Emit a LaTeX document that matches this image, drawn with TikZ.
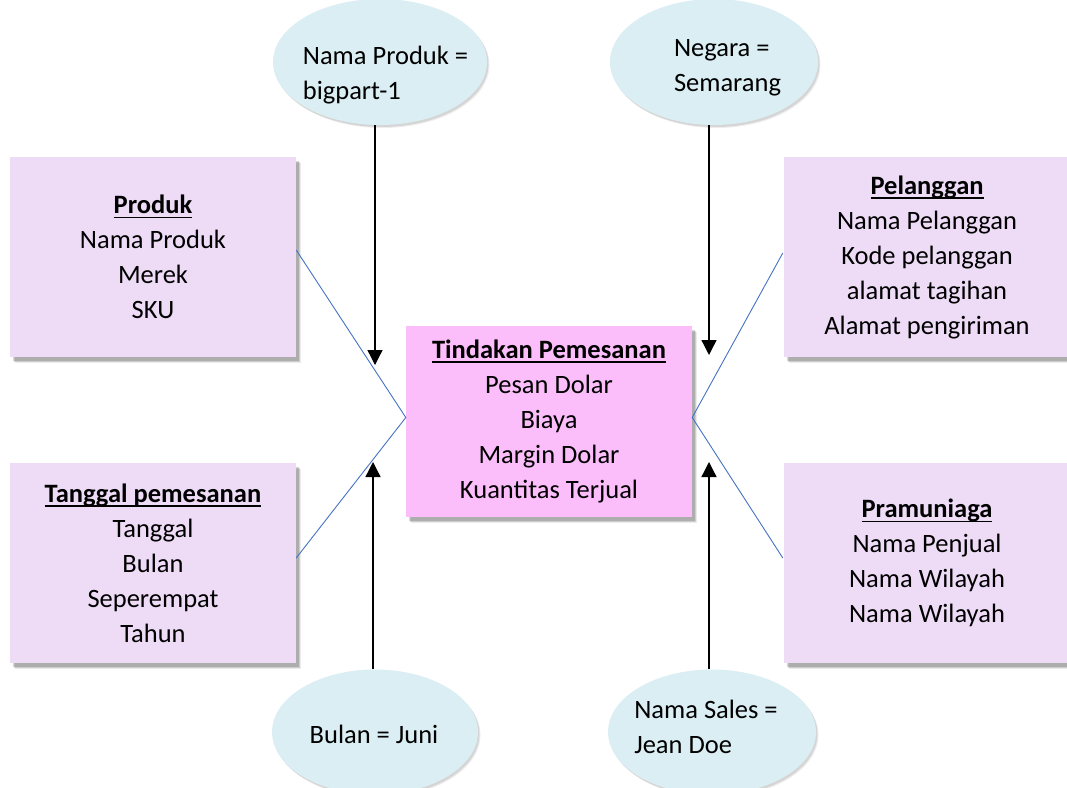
\documentclass[tikz,border=0pt]{standalone}
\usepackage{fontspec}
\setmainfont{Carlito}
\newcommand\myul[1]{\setbox0=\hbox{#1}\leavevmode\rlap{\rule[-4.5pt]{\wd0}{1.6pt}}\box0}
\usetikzlibrary{shapes.geometric,shadows,arrows.meta}
\definecolor{lav}{HTML}{EEDCF7}
\definecolor{pinkf}{HTML}{FBBEFA}
\definecolor{eblue}{HTML}{DAEEF3}
\definecolor{lblue}{HTML}{4472C4}
\begin{document}
\begin{tikzpicture}[x=1pt,y=-1pt,
  font=\fontsize{26.5}{35}\selectfont,
  shad/.style={drop shadow={shadow xshift=4.5pt,shadow yshift=-5.5pt,fill=black,opacity=0.08},
               drop shadow={shadow xshift=3.5pt,shadow yshift=-4.5pt,fill=black,opacity=0.12},
               drop shadow={shadow xshift=2.5pt,shadow yshift=-3.5pt,fill=black,opacity=0.16}},
  dimbox/.style={rectangle,fill=lav,minimum width=286pt,minimum height=200pt,inner sep=0pt,align=center,shad},
  factbox/.style={rectangle,fill=pinkf,minimum width=286pt,minimum height=191pt,inner sep=0pt,align=center,shad},
  filt/.style={ellipse,fill=eblue,inner sep=0pt,
               drop shadow={shadow xshift=2.5pt,shadow yshift=-3pt,fill=black,opacity=0.07},
               drop shadow={shadow xshift=1.5pt,shadow yshift=-2pt,fill=black,opacity=0.1}},
  etext/.style={align=left,inner sep=0pt},
  arr/.style={-{Triangle[width=15pt,length=15pt]},line width=1.3pt},
  link/.style={draw=lblue,line width=0.9pt}]
\useasboundingbox (0,0) rectangle (1067,787);

% ellipses
\node[filt,minimum width=214pt,minimum height=126pt] (e1) at (380,62) {};
\node[etext] (t1) at (385.5,75.5) {Nama Produk =\\bigpart-1};
\node[filt,minimum width=208pt,minimum height=126pt] (e2) at (714,62) {};
\node[etext] (t2) at (727.5,67.5) {Negara =\\Semarang};
\node[filt,minimum width=206pt,minimum height=125pt] (e3) at (375,732) {};
\node[etext] (t3) at (374,734) {Bulan = Juni};
\node[filt,minimum width=208pt,minimum height=125pt] (e4) at (712,732) {};
\node[etext] (t4) at (706,727) {Nama Sales =\\Jean Doe};

% boxes
\node[dimbox] (prod) at (153,257) {\myul{\textbf{Produk}}\\Nama Produk\\Merek\\SKU};
\node[dimbox] (tgl) at (153,563) {\myul{\textbf{Tanggal pemesanan}}\\Tanggal\\Bulan\\Seperempat\\Tahun};
\node[dimbox] (pel) at (927,257) {\myul{\textbf{Pelanggan}}\\Nama Pelanggan\\Kode pelanggan\\alamat tagihan\\Alamat pengiriman};
\node[dimbox] (pram) at (927,563) {\myul{\textbf{Pramuniaga}}\\Nama Penjual\\Nama Wilayah\\Nama Wilayah};
\node[factbox] (fact) at (549,421.5) {\myul{\textbf{Tindakan Pemesanan}}\\Pesan Dolar\\Biaya\\Margin Dolar\\Kuantitas Terjual};

% blue links
\draw[link] ([yshift=7pt]prod.east) -- ([yshift=4pt]fact.west) -- ([yshift=5pt]tgl.east);
\draw[link] ([xshift=-1pt,yshift=4pt]pel.west) -- ([yshift=4pt]fact.east) -- ([xshift=-1pt,yshift=5pt]pram.west);

% arrows
\coordinate (a1) at (375,365);
\coordinate (a2) at (709,355);
\coordinate (a3) at (373,462);
\coordinate (a4) at (709,462);
\draw[arr] (e1.south -| a1) -- (a1);
\draw[arr] (e2.south -| a2) -- (a2);
\draw[arr] (e3.north -| a3) -- (a3);
\draw[arr] (e4.north -| a4) -- (a4);
\end{tikzpicture}
\end{document}
